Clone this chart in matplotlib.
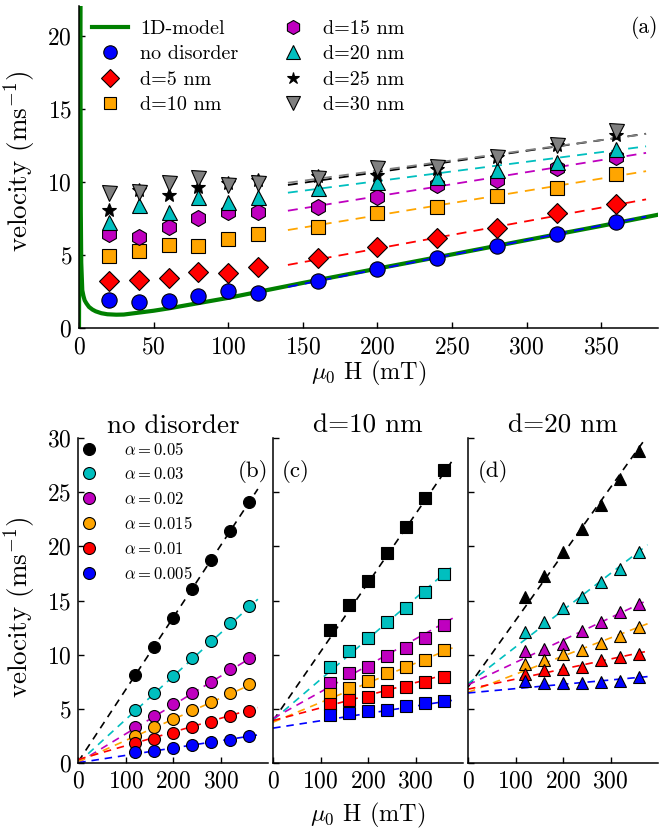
import numpy as np
import matplotlib
matplotlib.use("Agg")
import matplotlib.pyplot as plt
from matplotlib.lines import Line2D

plt.rcParams.update({
    "font.family": "cmr10",
    "mathtext.fontset": "cm",
    "axes.formatter.use_mathtext": True,
    "axes.unicode_minus": False,
    "axes.linewidth": 1.1,
    "xtick.direction": "in",
    "ytick.direction": "in",
    "xtick.major.size": 4,
    "ytick.major.size": 4,
    "xtick.major.width": 1.0,
    "ytick.major.width": 1.0,
    "xtick.major.pad": 5.5,
    "ytick.major.pad": 5,
    "xtick.labelsize": 17,
    "ytick.labelsize": 17,
})

# ---------------- panel (a): disorder grain size ----------------
field_a = [20, 40, 60, 80, 100, 120, 160, 200, 240, 280, 320, 360]
v_no_disorder = [1.94, 1.82, 1.87, 2.21, 2.55, 2.44, 3.23, 4.05, 4.83, 5.65, 6.42, 7.24]
v_d5 = [3.23, 3.30, 3.42, 3.87, 3.80, 4.21, 4.78, 5.58, 6.15, 6.88, 7.86, 8.50]
v_d10 = [4.94, 5.31, 5.69, 5.65, 6.08, 6.42, 6.95, 7.86, 8.27, 9.07, 9.57, 10.52]
v_d15 = [6.42, 6.26, 6.95, 7.52, 7.93, 7.97, 8.27, 9.00, 9.80, 10.14, 10.93, 11.73]
v_d20 = [7.29, 8.43, 7.97, 9.00, 8.66, 9.00, 9.57, 10.02, 10.36, 10.82, 11.39, 12.26]
v_d25 = [8.09, 9.45, 9.11, 9.68, 9.91, 10.14, 10.41, 10.48, 10.87, 11.73, 12.53, 13.21]
v_d30 = [9.23, 9.34, 9.95, 10.25, 9.80, 9.95, 10.25, 10.93, 11.05, 11.73, 12.53, 13.51]
labels_a = ["no disorder", "d=5 nm", "d=10 nm", "d=15 nm", "d=20 nm", "d=25 nm", "d=30 nm"]

# high-field linear fits (intercept, slope) for each series of panel (a)
fit_a_intercept = [0.03, 1.72, 4.37, 5.73, 7.42, 7.75, 8.00]
fit_a_slope = [0.0200, 0.01866, 0.01676, 0.01647, 0.0132, 0.0146, 0.0139]
fit_a_range = [140, 380]

# one-dimensional model curve
model_field = [0, 0.9, 1.05, 1.2, 1.5, 2.2, 3.0, 3.8, 5, 6.7, 9, 11.2, 15, 19, 25, 30,
               40, 50, 60, 80, 100, 150, 200, 250, 300, 350, 390]
model_v = [0, 30, 14, 8, 4.5, 2.6, 2.2, 1.91, 1.7, 1.46, 1.28, 1.16, 1.03, 0.96, 0.93, 0.94,
           1.07, 1.2, 1.36, 1.72, 2.08, 3.1, 4.08, 5.05, 6.03, 7.0, 7.8]

# ---------------- panels (b)-(d): damping dependence ----------------
field_b = [120, 160, 200, 240, 280, 320, 360]
alpha_labels = ["0.05", "0.03", "0.02", "0.015", "0.01", "0.005"]

nd_v = [
    [8.11, 10.73, 13.41, 16.07, 18.75, 21.43, 24.11],
    [4.87, 6.48, 8.05, 9.71, 11.29, 12.89, 14.52],
    [3.33, 4.35, 5.43, 6.48, 7.49, 8.63, 9.65],
    [2.50, 3.33, 4.04, 4.87, 5.64, 6.48, 7.28],
    [1.85, 2.19, 2.71, 3.27, 3.79, 4.32, 4.81],
    [1.02, 1.08, 1.33, 1.63, 1.88, 2.10, 2.47],
]
nd_fit_intercept = [0.1, 0.0, 0.0, 0.1, 0.3, 0.0]
nd_fit_slope = [0.0667, 0.0400, 0.0267, 0.0196, 0.0127, 0.0068]

d10_v = [
    [12.27, 14.59, 16.84, 19.36, 21.77, 24.45, 27.07],
    [8.82, 10.36, 11.56, 13.04, 14.28, 15.82, 17.45],
    [7.34, 8.33, 8.88, 9.90, 10.64, 11.50, 12.74],
    [6.32, 6.88, 7.59, 8.26, 8.88, 9.50, 10.42],
    [5.43, 5.80, 6.11, 6.66, 7.03, 7.49, 7.96],
    [4.41, 4.56, 4.81, 4.87, 5.24, 5.49, 5.70],
]
d10_fit_intercept = [3.9, 3.95, 4.1, 3.75, 3.9, 3.2]
d10_fit_slope = [0.0637, 0.0376, 0.0245, 0.0182, 0.0117, 0.0068]

d20_v = [
    [15.29, 17.27, 19.46, 21.62, 23.84, 26.21, 28.86],
    [12.06, 13.04, 14.28, 15.36, 16.74, 17.88, 19.46],
    [10.33, 10.48, 10.98, 12.21, 12.98, 13.97, 14.68],
    [9.10, 9.50, 10.02, 10.42, 11.04, 11.75, 12.52],
    [8.17, 8.57, 8.63, 8.88, 9.50, 9.74, 10.05],
    [7.55, 7.34, 7.40, 7.40, 7.49, 7.55, 7.89],
]
d20_fit_intercept = [7.0, 7.3, 7.2, 6.5, 6.8, 6.45]
d20_fit_slope = [0.0615, 0.0340, 0.0207, 0.0168, 0.0093, 0.0040]
fit_b_range = [0, 378]

panel_titles = ["no disorder", "d=10 nm", "d=20 nm"]
panel_tags = ["(b)", "(c)", "(d)"]

# ---------------- styling ----------------
colors_a = ["#0000ff", "#ff0000", "#ffa500", "#bf00bf", "#00bfbf", "#000000", "#808080"]
markers_a = ["o", "D", "s", "h", "^", "*", "v"]
msizes_a = [11, 10, 10, 11.5, 10.8, 10, 10.8]
colors_b = ["#000000", "#00bfbf", "#bf00bf", "#ffa500", "#ff0000", "#0000ff"]
panel_markers = ["o", "s", "^"]

fig = plt.figure(figsize=(6.6, 8.34), dpi=100)
W, H = 660.0, 834.0

# top panel
ax = fig.add_axes([79 / W, 1 - 328.3 / H, 579 / W, 321.9 / H])
ax.spines["top"].set_visible(False)
ax.spines["right"].set_visible(False)

ax.plot(model_field, model_v, color="#008000", lw=3.0, zorder=2)

series_a = [v_no_disorder, v_d5, v_d10, v_d15, v_d20, v_d25, v_d30]
xf = np.array(fit_a_range, dtype=float)
for i in range(len(series_a)):
    ax.plot(xf, fit_a_intercept[i] + fit_a_slope[i] * xf, color=colors_a[i],
            lw=1.3, dashes=(5.5, 4), zorder=3)

handles = [Line2D([], [], color="#008000", lw=3.0)]
for i, v in enumerate(series_a):
    ax.plot(field_a, v, ls="none", marker=markers_a[i], ms=msizes_a[i],
            mfc=colors_a[i], mec="k", mew=0.8, zorder=4 + i)
    handles.append(Line2D([], [], ls="none", marker=markers_a[i],
                          ms=msizes_a[i] * 0.88, mfc=colors_a[i], mec="k", mew=0.8))

ax.legend(handles, ["1D-model"] + labels_a, ncol=2, loc="upper left",
          bbox_to_anchor=(0.0225, 0.958), frameon=False, fontsize=14.5,
          handlelength=1.8, handletextpad=0.6, columnspacing=1.8,
          labelspacing=0.36, borderpad=0.0, borderaxespad=0.0)

ax.set_xlim(0, 388)
ax.set_ylim(0, 22)
ax.set_xticks([0, 50, 100, 150, 200, 250, 300, 350])
ax.set_yticks([0, 5, 10, 15, 20])
ax.set_xlabel(r"$\mu_0$ H (mT)", fontsize=17.5)
ax.xaxis.set_label_coords(0.5, -0.095)
ax.set_ylabel(r"velocity (ms$^{-1}$)", fontsize=19.5)
ax.yaxis.set_label_coords(-0.07, 0.52)
ax.text(1.0, 0.933, "(a)", transform=ax.transAxes, ha="right", va="center", fontsize=15.5)

# bottom panels
panel_w = 190.0
gap = 4.85
lefts = [78.3, 78.3 + panel_w + gap, 78.3 + 2 * (panel_w + gap)]
panel_data = [
    (nd_v, nd_fit_intercept, nd_fit_slope),
    (d10_v, d10_fit_intercept, d10_fit_slope),
    (d20_v, d20_fit_intercept, d20_fit_slope),
]
tag_pos = [(1.0, "right"), (0.045, "left"), (0.051, "left")]
xb = np.array(fit_b_range, dtype=float)

for p in range(3):
    axp = fig.add_axes([lefts[p] / W, 1 - 762.7 / H, panel_w / W, 324.4 / H])
    axp.spines["top"].set_visible(False)
    axp.spines["right"].set_visible(False)
    vals, b0, m0 = panel_data[p]
    for i in range(len(vals)):
        axp.plot(xb, b0[i] + m0[i] * xb, color=colors_b[i], lw=1.2,
                 dashes=(4.5, 3.5), zorder=2)
    for i in range(len(vals)):
        axp.plot(field_b, vals[i], ls="none", marker=panel_markers[p], ms=8.6,
                 mfc=colors_b[i], mec="k", mew=0.8, zorder=3 + i)
    axp.set_xlim(0, 400)
    axp.set_ylim(0, 30)
    axp.set_xticks([0, 100, 200, 300])
    axp.set_yticks([0, 5, 10, 15, 20, 25, 30])
    if p > 0:
        axp.tick_params(labelleft=False)
    axp.set_title(panel_titles[p], fontsize=19.5, pad=4)
    tx, tha = tag_pos[p]
    axp.text(tx, 0.899, panel_tags[p], transform=axp.transAxes, ha=tha,
             va="center", fontsize=16.5)
    if p == 0:
        axp.set_ylabel(r"velocity (ms$^{-1}$)", fontsize=19.5)
        axp.yaxis.set_label_coords(-0.212, 0.48)
        hb = [Line2D([], [], ls="none", marker="o", ms=8.6, mfc=c, mec="k", mew=0.8)
              for c in colors_b]
        axp.legend(hb, [r"$\alpha = %s$" % a for a in alpha_labels], loc="upper left",
                   bbox_to_anchor=(0.0, 1.0), frameon=False, fontsize=12,
                   handlelength=1.0, handletextpad=1.6, labelspacing=0.51,
                   borderpad=0.15, borderaxespad=0.0)

fig.text(0.5575, 1 - 815 / H, r"$\mu_0$ H (mT)", ha="center", va="center", fontsize=17.5)

fig.savefig("out.png", dpi=100)
